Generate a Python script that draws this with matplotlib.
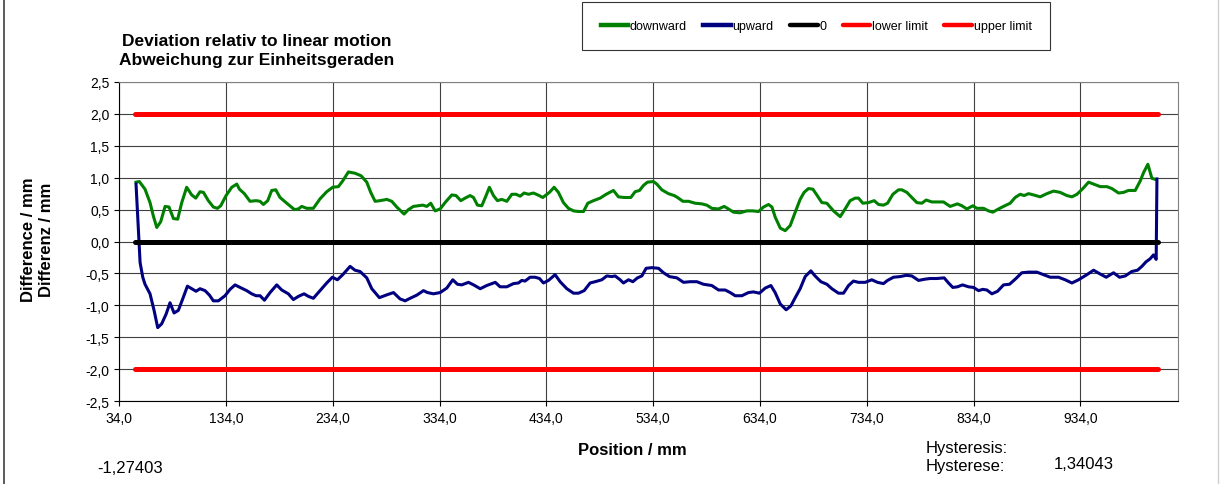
import matplotlib
matplotlib.use("Agg")
import matplotlib.pyplot as plt
from matplotlib.lines import Line2D
from matplotlib.ticker import FuncFormatter

plt.rcParams["font.family"] = ["Liberation Sans", "DejaVu Sans"]

# downward run (green)
down_x = [49.9, 53.0, 58.3, 63.0, 66.1, 69.3, 73.0, 77.1, 80.8, 84.9, 88.9, 92.7, 97.3,
          102.0, 105.8, 109.8, 113.0, 117.6, 122.3, 126.1, 129.2, 134.2, 139.5, 144.2,
          146.7, 151.3, 156.6, 162.3, 166.0, 169.1, 173.2, 176.9, 180.7, 184.7, 191.0,
          198.2, 201.9, 205.0, 209.7, 215.9, 222.2, 228.4, 234.0, 239.3, 243.4, 248.7,
          254.9, 260.6, 265.9, 269.6, 273.7, 278.4, 284.6, 289.3, 294.0, 297.1, 300.8,
          304.9, 309.6, 314.3, 318.3, 322.1, 325.8, 329.9, 334.6, 339.2, 345.5, 349.5,
          353.9, 358.0, 362.6, 365.8, 369.5, 373.6, 377.6, 380.7, 384.5, 388.2, 392.3,
          397.0, 401.7, 405.7, 409.5, 413.2, 417.3, 421.9, 426.0, 430.7, 436.9, 441.3,
          445.3, 450.0, 454.7, 459.4, 464.1, 468.8, 472.8, 478.1, 484.4, 490.0, 496.8,
          501.5, 506.8, 513.1, 517.1, 521.2, 525.0, 528.7, 534.3, 537.4, 542.1, 548.3,
          553.7, 556.8, 561.8, 567.1, 573.3, 579.5, 584.2, 588.9, 595.2, 600.5, 604.5,
          609.2, 615.4, 621.7, 627.3, 632.6, 637.3, 642.0, 645.2, 648.3, 653.0, 657.6,
          662.3, 667.0, 671.6, 675.3, 679.4, 683.5, 687.2, 691.9, 696.6, 702.8, 709.1,
          713.7, 718.4, 723.1, 726.2, 730.3, 735.6, 740.9, 745.0, 749.6, 753.4, 758.4,
          763.7, 766.8, 771.5, 776.2, 780.8, 785.5, 789.6, 794.9, 799.6, 805.8, 812.0,
          818.9, 823.0, 827.7, 833.3, 837.0, 843.3, 847.9, 852.0, 857.3, 862.0, 868.2,
          872.9, 877.6, 881.3, 885.4, 890.1, 896.3, 902.6, 908.8, 915.0, 921.3, 926.0,
          930.7, 936.3, 941.6, 946.3, 952.5, 958.7, 963.4, 969.7, 974.4, 979.0, 985.3,
          990.0, 993.1, 997.1, 1000.9, 1004.9]
down_y = [0.93, 0.94, 0.82, 0.61, 0.40, 0.22, 0.31, 0.55, 0.54, 0.36, 0.35, 0.61, 0.85,
          0.73, 0.68, 0.78, 0.77, 0.64, 0.54, 0.52, 0.56, 0.72, 0.85, 0.90, 0.82, 0.75,
          0.63, 0.64, 0.63, 0.58, 0.64, 0.80, 0.81, 0.69, 0.60, 0.50, 0.51, 0.55, 0.52,
          0.52, 0.67, 0.78, 0.85, 0.86, 0.95, 1.09, 1.07, 1.03, 0.93, 0.77, 0.63, 0.64,
          0.66, 0.63, 0.54, 0.49, 0.43, 0.50, 0.55, 0.56, 0.57, 0.55, 0.60, 0.48, 0.51,
          0.61, 0.73, 0.72, 0.64, 0.68, 0.72, 0.69, 0.57, 0.56, 0.72, 0.85, 0.72, 0.64,
          0.66, 0.63, 0.74, 0.74, 0.71, 0.76, 0.74, 0.76, 0.73, 0.69, 0.77, 0.85, 0.77,
          0.61, 0.52, 0.48, 0.47, 0.47, 0.60, 0.64, 0.68, 0.74, 0.80, 0.70, 0.69, 0.69,
          0.78, 0.80, 0.88, 0.93, 0.94, 0.90, 0.81, 0.75, 0.72, 0.69, 0.63, 0.63, 0.60,
          0.59, 0.57, 0.52, 0.51, 0.55, 0.51, 0.46, 0.45, 0.48, 0.48, 0.47, 0.54, 0.58,
          0.54, 0.38, 0.21, 0.17, 0.25, 0.46, 0.66, 0.77, 0.83, 0.82, 0.73, 0.61, 0.60,
          0.48, 0.39, 0.51, 0.64, 0.68, 0.68, 0.60, 0.61, 0.64, 0.58, 0.57, 0.60, 0.74,
          0.81, 0.81, 0.77, 0.69, 0.61, 0.60, 0.65, 0.62, 0.62, 0.62, 0.55, 0.59, 0.56,
          0.51, 0.56, 0.52, 0.52, 0.48, 0.46, 0.51, 0.55, 0.60, 0.69, 0.74, 0.72, 0.75,
          0.73, 0.70, 0.75, 0.79, 0.77, 0.72, 0.70, 0.74, 0.83, 0.93, 0.90, 0.86, 0.86,
          0.83, 0.76, 0.77, 0.80, 0.80, 0.95, 1.08, 1.21, 0.99, 0.97]

# upward run (blue)
up_x = [49.9, 53.7, 56.2, 58.3, 63.0, 66.8, 70.2, 73.9, 78.0, 81.7, 85.5, 89.5, 93.6,
        98.0, 102.0, 106.1, 109.8, 114.5, 118.6, 122.3, 127.0, 133.2, 137.9, 142.6,
        147.3, 153.5, 158.2, 162.3, 166.0, 170.1, 175.4, 181.6, 186.3, 192.5, 197.2,
        201.9, 207.2, 211.3, 215.9, 222.2, 228.4, 233.7, 238.4, 243.4, 250.3, 254.9,
        259.6, 265.9, 270.6, 277.7, 284.0, 290.9, 297.1, 301.8, 306.5, 312.8, 319.0,
        322.7, 328.3, 334.6, 340.8, 346.4, 350.8, 354.8, 361.1, 365.9, 372.1, 378.2,
        386.2, 390.7, 397.0, 403.2, 407.9, 411.0, 414.1, 418.8, 423.5, 427.6, 431.3,
        436.0, 442.2, 446.9, 453.2, 459.4, 464.1, 469.4, 475.0, 479.7, 485.9, 490.6,
        495.3, 498.4, 503.1, 506.2, 510.9, 515.0, 519.3, 523.4, 527.4, 532.7, 539.0,
        543.7, 549.3, 556.2, 562.4, 568.7, 574.9, 581.1, 588.9, 595.2, 601.4, 606.1,
        610.8, 617.0, 623.3, 627.9, 633.5, 638.9, 644.2, 648.2, 653.0, 658.5, 662.9,
        667.0, 671.6, 676.3, 681.6, 685.6, 691.0, 696.6, 701.3, 707.5, 712.2, 716.9,
        721.5, 726.2, 732.5, 738.7, 744.0, 749.6, 753.4, 759.0, 765.2, 770.9, 776.2,
        782.4, 788.6, 793.3, 799.6, 806.4, 810.5, 814.5, 818.9, 823.6, 829.2, 833.9,
        838.6, 842.6, 846.4, 851.1, 856.4, 862.0, 867.6, 873.0, 879.1, 885.4, 893.2,
        899.4, 905.7, 913.5, 919.7, 926.0, 932.2, 940.0, 946.3, 952.5, 958.1, 965.0,
        970.6, 975.9, 982.1, 987.4, 991.5, 995.3, 999.3, 1002.4, 1004.9, 1005.6]
up_y = [0.90, -0.33, -0.56, -0.67, -0.82, -1.08, -1.35, -1.29, -1.14, -0.96, -1.12, -1.08,
        -0.90, -0.70, -0.74, -0.78, -0.74, -0.77, -0.84, -0.93, -0.93, -0.85, -0.75, -0.68,
        -0.72, -0.77, -0.82, -0.85, -0.85, -0.92, -0.80, -0.68, -0.76, -0.82, -0.91, -0.86,
        -0.82, -0.86, -0.89, -0.77, -0.65, -0.56, -0.60, -0.52, -0.39, -0.45, -0.47, -0.57,
        -0.74, -0.88, -0.84, -0.80, -0.90, -0.93, -0.89, -0.84, -0.77, -0.80, -0.82, -0.80,
        -0.73, -0.60, -0.67, -0.68, -0.64, -0.68, -0.74, -0.69, -0.64, -0.71, -0.71, -0.66,
        -0.65, -0.61, -0.62, -0.56, -0.56, -0.58, -0.65, -0.61, -0.52, -0.63, -0.74, -0.81,
        -0.81, -0.77, -0.65, -0.63, -0.60, -0.54, -0.55, -0.54, -0.60, -0.65, -0.60, -0.63,
        -0.57, -0.54, -0.42, -0.41, -0.42, -0.49, -0.55, -0.57, -0.64, -0.63, -0.63, -0.67,
        -0.69, -0.76, -0.76, -0.80, -0.85, -0.85, -0.80, -0.79, -0.81, -0.73, -0.69, -0.80,
        -0.98, -1.07, -1.01, -0.88, -0.74, -0.55, -0.46, -0.54, -0.63, -0.67, -0.74, -0.81,
        -0.81, -0.69, -0.62, -0.64, -0.64, -0.60, -0.64, -0.66, -0.61, -0.56, -0.55, -0.53,
        -0.54, -0.61, -0.59, -0.58, -0.58, -0.57, -0.65, -0.72, -0.71, -0.68, -0.71, -0.72,
        -0.77, -0.75, -0.76, -0.82, -0.78, -0.68, -0.67, -0.59, -0.49, -0.48, -0.48, -0.52,
        -0.56, -0.56, -0.60, -0.65, -0.60, -0.52, -0.45, -0.51, -0.56, -0.49, -0.56, -0.54,
        -0.47, -0.45, -0.39, -0.32, -0.27, -0.21, -0.28, 0.98]

# reference lines
ref_x = [49.0, 1006.5]
zero_y = [0.0, 0.0]
lower_y = [-2.0, -2.0]
upper_y = [2.0, 2.0]

x_ticks = [34, 134, 234, 334, 434, 534, 634, 734, 834, 934]
y_ticks = [-2.5, -2.0, -1.5, -1.0, -0.5, 0.0, 0.5, 1.0, 1.5, 2.0, 2.5]

hysteresis = "1,34043"
offset_value = "-1,27403"

fig = plt.figure(figsize=(12.21, 4.85), dpi=100)
ax = fig.add_axes([0.0975, 0.1711, 0.867, 0.6578])

ax.plot(down_x, down_y, color="#008000", lw=2.2, label="downward", zorder=3)
ax.plot(up_x, up_y, color="#000080", lw=2.2, label="upward", zorder=3)
ax.plot(ref_x, zero_y, color="black", lw=3.6, solid_capstyle="round", label="0", zorder=4)
ax.plot(ref_x, lower_y, color="#ff0000", lw=3.6, solid_capstyle="round",
        label="lower limit", zorder=5)
ax.plot(ref_x, upper_y, color="#ff0000", lw=3.6, solid_capstyle="round",
        label="upper limit", zorder=5)

ax.set_xlim(34, 1025)
ax.set_ylim(-2.5, 2.5)
ax.set_xticks(x_ticks)
ax.set_yticks(y_ticks)
ax.xaxis.set_major_formatter(FuncFormatter(lambda v, p: f"{v:.1f}".replace(".", ",")))
ax.yaxis.set_major_formatter(FuncFormatter(lambda v, p: f"{v:.1f}".replace(".", ",")))
ax.tick_params(direction="out", length=3.5, width=0.8, labelsize=10, colors="black")
ax.tick_params(axis="y", pad=3.5)
ax.tick_params(axis="x", pad=4)
ax.grid(True, color="#404040", lw=0.8)
ax.set_axisbelow(True)
for s in ["left", "bottom"]:
    ax.spines[s].set_color("black")
for s in ["top", "right"]:
    ax.spines[s].set_color("#808080")

fig.text(0.2105, 1 - 41 / 485, "Deviation relativ to linear motion", ha="center",
         va="center", fontsize=12.5, fontweight="bold")
fig.text(0.2105, 1 - 60 / 485, "Abweichung zur Einheitsgeraden", ha="center",
         va="center", fontsize=12.5, fontweight="bold")
fig.text(0.0307, 0.505, "Difference / mm\nDifferenz / mm", rotation=90, ha="center",
         va="center", fontsize=12, fontweight="bold", multialignment="center",
         linespacing=1.3)
fig.text(632 / 1221, 1 - 451 / 485, "Position / mm", ha="center", va="center",
         fontsize=12, fontweight="bold")
fig.text(97 / 1221, 1 - 469 / 485, offset_value, ha="left", va="center", fontsize=12)
fig.text(926 / 1221, 1 - 449 / 485, "Hysteresis:", ha="left", va="center", fontsize=12)
fig.text(926 / 1221, 1 - 467 / 485, "Hysterese:", ha="left", va="center", fontsize=12)
fig.text(1054 / 1221, 1 - 465 / 485, hysteresis, ha="left", va="center", fontsize=12)

leg = fig.legend(loc="center", bbox_to_anchor=(816 / 1221, 1 - 27 / 485), ncol=5,
                 fontsize=9, frameon=True, fancybox=False, handlelength=2.2,
                 handletextpad=0.15, columnspacing=1.3, borderpad=1.45)
leg.get_frame().set_edgecolor("black")
leg.get_frame().set_linewidth(0.8)
for h in leg.get_lines():
    h.set_linewidth(3.2)

# chart area border
fig.add_artist(Line2D([4 / 1221, 4 / 1221], [0, 1], color="#404040", lw=1.2))
fig.add_artist(Line2D([1218 / 1221, 1218 / 1221], [0, 1], color="#d0d0d0", lw=1.0))

fig.savefig("out.png", dpi=100)
